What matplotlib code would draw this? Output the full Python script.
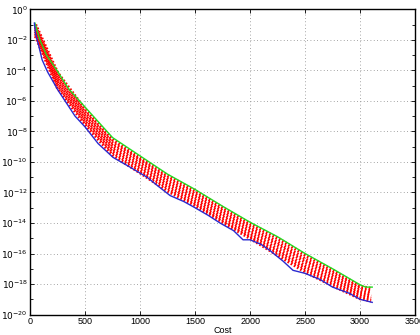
import matplotlib
matplotlib.use("Agg")
import matplotlib.pyplot as plt
import numpy as np

# envelope curves: cost, log10(variance)
upper_cost = [45, 90, 150, 250, 350, 500, 750, 1000, 1250, 1500, 1750, 2000, 2250, 2500, 2750, 3000, 3050, 3110]
upper_logvar = [-0.9, -2.0, -3.0, -4.05, -5.2, -6.4, -8.4, -9.6, -10.8, -11.8, -12.9, -13.95, -14.9, -16.0, -17.0, -18.05, -18.2, -18.2]

lower_cost = [40, 50, 80, 110, 160, 255, 410, 500, 620, 755, 900, 1064, 1150, 1273, 1400, 1500, 1620, 1727, 1850,
              1936, 2000, 2100, 2180, 2300, 2390, 2500, 2636, 2750, 2900, 3000, 3110]
lower_logvar = [-0.9, -1.6, -2.4, -3.3, -4.1, -5.3, -7.0, -7.7, -8.8, -9.7, -10.3, -11.0, -11.5, -12.2, -12.6, -13.0,
                -13.5, -14.0, -14.5, -15.1, -15.1, -15.4, -15.8, -16.5, -17.1, -17.3, -17.7, -18.2, -18.6, -19.0, -19.2]

# red sample cloud, read as stripes between the envelopes
stripe_cost = [50, 250, 500, 750, 1000, 1250, 1500, 1750, 2000, 2250, 2500, 2750, 3000, 3100]
stripes = [
    [-1.0, -4.15, -6.55, -8.55, -9.75, -10.9, -11.9, -13.0, -14.05, -15.0, -16.1, -17.1, -18.15, -18.3],
    [-1.15, -4.35, -6.75, -8.75, -9.9, -11.1, -12.1, -13.2, -14.25, -15.25, -16.35, -17.3, -18.3, -18.5],
    [-1.3, -4.55, -6.95, -8.95, -10.1, -11.3, -12.3, -13.4, -14.45, -15.45, -16.55, -17.5, -18.5, -18.65],
    [-1.45, -4.75, -7.15, -9.15, -10.3, -11.5, -12.5, -13.6, -14.65, -15.7, -16.8, -17.7, -18.65, -18.8],
    [-1.6, -4.95, -7.35, -9.35, -10.5, -11.7, -12.7, -13.8, -14.85, -15.9, -17.0, -17.9, -18.8, -18.95],
    [-1.75, -5.15, -7.55, -9.55, -10.7, -11.9, -12.85, -13.95, -15.0, -16.1, -17.2, -18.1, -18.95, -19.1],
]

plt.rcParams['font.family'] = ['Liberation Sans', 'DejaVu Sans']

fig = plt.figure(figsize=(4.2, 3.35), dpi=100)
ax = fig.add_axes([0.0714, 0.061, 0.917, 0.911])

for s in stripes:
    ax.plot(stripe_cost, 10.0 ** np.array(s), color='red', lw=2.4,
            linestyle=(0, (0.5, 0.6)), zorder=2)

ax.plot(upper_cost, 10.0 ** np.array(upper_logvar), color='#22dd22', lw=1.0, zorder=3)
ax.plot(lower_cost, 10.0 ** np.array(lower_logvar), color='#2a2ad0', lw=1.0, zorder=3)

ax.set_yscale('log')
ax.set_xlim(0, 3500)
ax.set_ylim(1e-20, 1e0)
ax.set_xticks(np.arange(0, 3501, 500))
ax.set_yticks([10.0 ** k for k in range(-20, 1, 2)])
ax.set_yticks([10.0 ** k for k in range(-19, 0, 2)], minor=True)
ax.set_yticklabels([r'$10^{%d}$' % k for k in range(-20, 1, 2)], minor=False)
ax.yaxis.set_minor_formatter(matplotlib.ticker.NullFormatter())
ax.grid(True, which='major', linestyle=(0, (1, 3)), color='#888888', lw=0.6)
ax.tick_params(which='both', direction='in', top=True, right=True, labelsize=6.5,
               length=3, width=0.6, pad=1.5)
ax.tick_params(which='minor', length=2)
for sp in ax.spines.values():
    sp.set_linewidth(1.0)

ax.set_xlabel('Cost', fontsize=6.5, labelpad=0)
ax.set_ylabel('Variance', fontsize=6.5, labelpad=-1)

fig.savefig('out.png', dpi=100)
